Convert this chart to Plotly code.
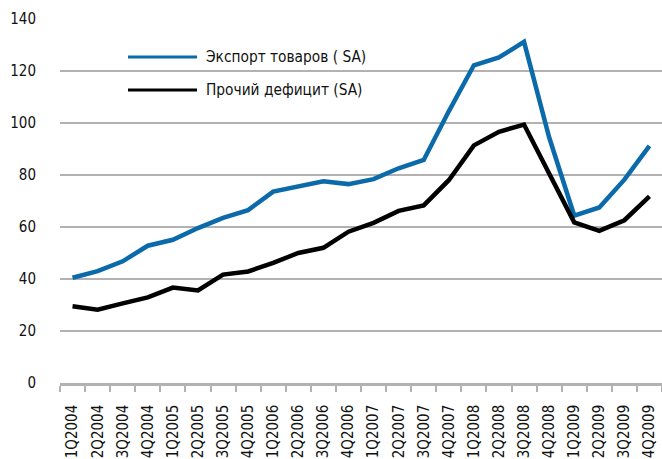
import plotly.graph_objects as go

quarters = ["1Q2004", "2Q2004", "3Q2004", "4Q2004",
            "1Q2005", "2Q2005", "3Q2005", "4Q2005",
            "1Q2006", "2Q2006", "3Q2006", "4Q2006",
            "1Q2007", "2Q2007", "3Q2007", "4Q2007",
            "1Q2008", "2Q2008", "3Q2008", "4Q2008",
            "1Q2009", "2Q2009", "3Q2009", "4Q2009"]

export_goods = [40.5, 43.0, 46.8, 52.8, 55.1, 59.6, 63.5, 66.5,
                73.6, 75.7, 77.6, 76.5, 78.4, 82.6, 85.8, 104.5,
                122.2, 125.2, 131.2, 94.5, 64.4, 67.5, 78.2, 91.2]

other_deficit = [29.5, 28.2, 30.6, 32.9, 36.7, 35.6, 41.7, 42.9,
                 46.2, 50.0, 52.0, 58.2, 61.6, 66.2, 68.3, 78.0,
                 91.4, 96.6, 99.4, 80.5, 61.8, 58.5, 62.6, 71.8]

name_export = "Экспорт товаров ( SA)"
name_deficit = "Прочий дефицит (SA)"

BLUE = "#0A6AAA"
BLACK = "#000000"
GRID = "#B3B1B1"
FONT = "DejaVu Sans Condensed, Liberation Sans Narrow, Arial Narrow, sans-serif"

fig = go.Figure()
fig.add_trace(go.Scatter(x=quarters, y=export_goods, mode="lines", name=name_export,
                         line=dict(color=BLUE, width=4.5), showlegend=False))
fig.add_trace(go.Scatter(x=quarters, y=other_deficit, mode="lines", name=name_deficit,
                         line=dict(color=BLACK, width=4.5), showlegend=False))

W, H = 662, 459
ML, MR, MT, MB = 60, 0, 19, 76
pw = W - ML - MR
ph = H - MT - MB

def px_x(p):
    return (p - ML) / pw

def px_y(p):
    return 1 - (p - MT) / ph

# legend box (white, covers gridlines)
fig.add_shape(type="rect", xref="paper", yref="paper",
              x0=px_x(96), x1=px_x(375), y0=px_y(110), y1=px_y(36),
              fillcolor="white", line=dict(width=0), layer="between")
for yy, col, txt in [(57, BLUE, name_export), (90, BLACK, name_deficit)]:
    fig.add_shape(type="line", xref="paper", yref="paper",
                  x0=px_x(128), x1=px_x(197), y0=px_y(yy), y1=px_y(yy),
                  line=dict(color=col, width=3))
    fig.add_annotation(xref="paper", yref="paper", x=px_x(204), y=px_y(yy),
                       text=txt, showarrow=False, xanchor="left", yanchor="middle",
                       font=dict(family=FONT, size=15.3, color="#111111"))

fig.update_layout(
    width=W, height=H,
    margin=dict(l=ML, r=MR, t=MT, b=MB, autoexpand=False),
    paper_bgcolor="white", plot_bgcolor="white",
    font=dict(family=FONT, size=16, color="#111111"),
)
fig.update_xaxes(type="category", range=[-0.5, len(quarters) - 0.5],
                 tickangle=-90, tickson="boundaries",
                 ticks="outside", ticklen=6, tickwidth=1.5, tickcolor=GRID,
                 showline=True, linecolor=GRID, linewidth=2.5,
                 showgrid=False, ticklabelstandoff=13, automargin=False,
                 tickfont=dict(family=FONT, size=15, color="#111111"))
fig.update_yaxes(range=[0, 140], dtick=20, showgrid=True, gridcolor=GRID, gridwidth=2,
                 zeroline=False, showline=False, automargin=False,
                 ticks="outside", ticklen=20, tickcolor="rgba(0,0,0,0)",
                 tickfont=dict(family=FONT, size=15, color="#111111"))

fig.write_html("out.html",
               config={"displayModeBar": False},
               post_script="document.body.style.margin='0px';document.body.style.overflow='hidden';")
